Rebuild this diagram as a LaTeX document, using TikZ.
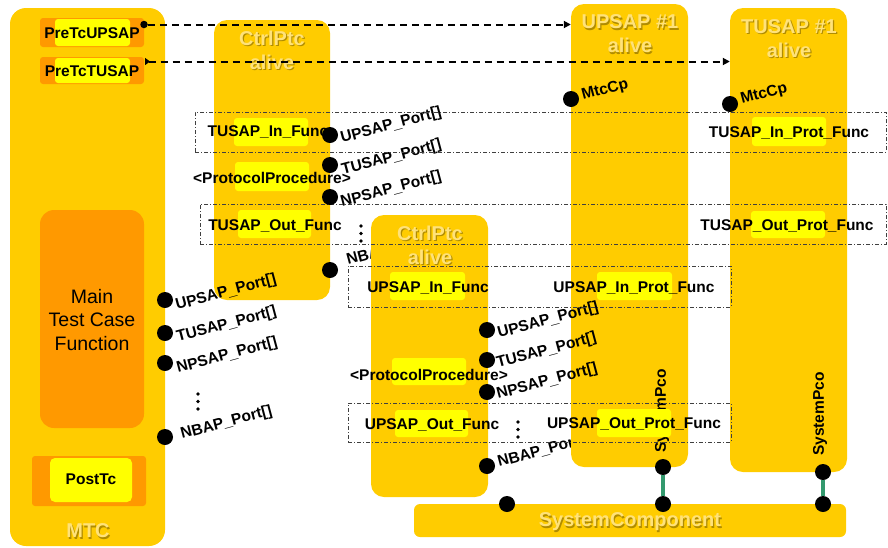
\documentclass[tikz,border=0pt]{standalone}
\usepackage{fontspec}
\setmainfont{Liberation Sans}
\usetikzlibrary{arrows.meta}
\definecolor{gold}{HTML}{FFCC00}
\definecolor{orng}{HTML}{FF9900}
\definecolor{yel}{HTML}{FFFF00}
\definecolor{embf}{HTML}{FFE27A}
\definecolor{embs}{HTML}{B08C00}
\definecolor{grn}{HTML}{33996E}
\newcommand\embtitle[4]{%
  \node[ttl,text=embs] at (#1+1.2,#2+1.2) {#4};
  \node[ttl,text=embf] (#3) at (#1,#2) {#4};}
\begin{document}
\begin{tikzpicture}[x=1pt,y=-1pt,
  goldbox/.style={fill=gold, inner sep=0pt, rounded corners=13pt},
  orbox/.style={fill=orng, inner sep=0pt, rounded corners=3pt},
  yelbox/.style={fill=yel, inner sep=0pt, rounded corners=3pt},
  lbl/.style={font=\fontsize{15.5}{18}\selectfont\bfseries, inner sep=0pt},
  plabel/.style={lbl, rotate=15, anchor=base west},
  ttl/.style={font=\fontsize{20}{24}\selectfont\bfseries, align=center, inner sep=0pt},
  bigdot/.style={circle, fill=black, inner sep=0pt, minimum size=16pt},
  smalldot/.style={circle, fill=black, inner sep=0pt, minimum size=3.6pt},
  ddrect/.style={draw=black!75, line width=0.7pt, dash pattern=on 4pt off 2pt on 1pt off 2pt, inner sep=0pt},
  dasharrow/.style={draw=black, line width=2pt, dash pattern=on 7pt off 5pt, -{Triangle[length=7pt,width=7pt]}},
  grnline/.style={draw=grn, line width=3.5pt}]
\useasboundingbox (0,0) rectangle (888,547);

% ---------------- MTC ----------------
\node[goldbox, rounded corners=16pt, minimum width=155pt, minimum height=538pt] (mtc) at (87.5,277) {};
\node[orbox, minimum width=104pt, minimum height=29pt] (pre1o) at (92,32.5) {};
\node[yelbox, minimum width=75pt, minimum height=27pt] (pre1y) at (92.5,32.5) {};
\node[lbl] (pre1t) at (92,33) {PreTcUPSAP};
\node[orbox, minimum width=104pt, minimum height=27pt] (pre2o) at (92,70.5) {};
\node[yelbox, minimum width=75pt, minimum height=25pt] (pre2y) at (92.5,70.5) {};
\node[lbl] (pre2t) at (92,71) {PreTcTUSAP};
\node[orbox, rounded corners=14pt, minimum width=104pt, minimum height=218pt] (mainf) at (92,319) {};
\node[font=\fontsize{19.5}{23.5}\selectfont, align=center, inner sep=0pt] (mainft) at (92,320) {Main\\Test Case\\Function};
\node[orbox, minimum width=114pt, minimum height=50pt] (posto) at (89,481) {};
\node[yelbox, rounded corners=5pt, minimum width=82pt, minimum height=44pt] (posty) at (91,480) {};
\node[lbl] (postt) at (91,479) {PostTc};
\embtitle{88}{531}{mtct}{MTC}

% ---------------- upper CtrlPtc ----------------
\node[goldbox, minimum width=116pt, minimum height=280pt] (cp1) at (272,160) {};
\embtitle{272}{50}{cp1t}{CtrlPtc\\alive}
\node[yelbox, minimum width=74pt, minimum height=28pt] (tinY) at (271,132) {};
\node[lbl] (tinT) at (268,132) {TUSAP\_In\_Func};
\node[yelbox, minimum width=74pt, minimum height=29pt] (pp1Y) at (272,176.5) {};
\node[lbl] (pp1T) at (272,178) {<ProtocolProcedure>};
\node[yelbox, minimum width=73pt, minimum height=28pt] (toutY) at (274.5,224) {};
\node[lbl] (toutT) at (275,226) {TUSAP\_Out\_Func};
\node[plabel] (c1l) at (342,143) {UPSAP\_Port[]};
\node[plabel] (c2l) at (343,175) {TUSAP\_Port[]};
\node[plabel] (c3l) at (342,207) {NPSAP\_Port[]};
\node[plabel] (c4l) at (348,265) {NBAP\_Port[]};

\node[plabel] (m1l) at (177,310) {UPSAP\_Port[]};
\node[plabel] (m2l) at (178,342) {TUSAP\_Port[]};
\node[plabel] (m3l) at (178,373) {NPSAP\_Port[]};
\node[plabel] (m4l) at (182,439) {NBAP\_Port[]};

% ---------------- lower CtrlPtc ----------------
\node[goldbox, minimum width=117pt, minimum height=282pt] (cp2) at (429.5,356) {};
\embtitle{430}{245}{cp2t}{CtrlPtc\\alive}
\node[yelbox, minimum width=75pt, minimum height=28pt] (uinY) at (427.5,286) {};
\node[lbl] (uinT) at (428,288) {UPSAP\_In\_Func};
\node[yelbox, minimum width=74pt, minimum height=27pt] (pp2Y) at (429,371.5) {};
\node[lbl] (pp2T) at (429,375) {<ProtocolProcedure>};
\node[yelbox, minimum width=73pt, minimum height=27pt] (uoutY) at (431.5,423.5) {};
\node[lbl] (uoutT) at (432,425) {UPSAP\_Out\_Func};
\node[plabel] (d4l) at (499,467) {NBAP\_Port[]};

% ---------------- UPSAP / TUSAP ----------------
\node[goldbox, minimum width=117pt, minimum height=463pt] (upsap) at (629.5,235.5) {};
\embtitle{630}{34}{upsapt}{UPSAP \#1\\alive}
\node[goldbox, minimum width=117pt, minimum height=464pt] (tusap) at (788.5,240) {};
\embtitle{789}{38.5}{tusapt}{TUSAP \#1\\alive}
\node[lbl, rotate=90] (spco1) at (662,411) {SystemPco};
\node[lbl, rotate=90] (spco2) at (820,414) {SystemPco};
\node[yelbox, minimum width=74pt, minimum height=29pt] (tipY) at (789,131.5) {};
\node[lbl] (tipT) at (789,133) {TUSAP\_In\_Prot\_Func};
\node[yelbox, minimum width=74pt, minimum height=27pt] (topY) at (788,224.5) {};
\node[lbl] (topT) at (787,226) {TUSAP\_Out\_Prot\_Func};
\node[yelbox, minimum width=75pt, minimum height=28pt] (uipY) at (634.5,286) {};
\node[lbl] (uipT) at (634,288) {UPSAP\_In\_Prot\_Func};
\node[yelbox, minimum width=74pt, minimum height=28pt] (uopY) at (634,423) {};
\node[lbl] (uopT) at (634,424) {UPSAP\_Out\_Prot\_Func};
\node[plabel] (d1l) at (499,338) {UPSAP\_Port[]};
\node[plabel] (d2l) at (498,368) {TUSAP\_Port[]};
\node[plabel] (d3l) at (498,399) {NPSAP\_Port[]};
\node[plabel] (mc1l) at (583,100) {MtcCp};
\node[plabel] (mc2l) at (742,104) {MtcCp};

% ---------------- dash-dot groups ----------------
\node[ddrect, minimum width=691pt, minimum height=40pt] (r1) at (540.5,132) {};
\node[ddrect, minimum width=686pt, minimum height=40pt] (r2) at (543,224) {};
\node[ddrect, minimum width=383pt, minimum height=41pt] (r3) at (539.5,286.5) {};
\node[ddrect, minimum width=383pt, minimum height=39pt] (r4) at (539.5,422.5) {};

% ---------------- ellipses ----------------
\node[smalldot] (e1a) at (198,394) {};
\node[smalldot] (e1b) at (198,401.5) {};
\node[smalldot] (e1c) at (198,409) {};
\node[smalldot] (e2a) at (361,226) {};
\node[smalldot] (e2b) at (361,233.5) {};
\node[smalldot] (e2c) at (361,241) {};
\node[smalldot] (e3a) at (518,422) {};
\node[smalldot] (e3b) at (518,429.5) {};
\node[smalldot] (e3c) at (518,437) {};

% ---------------- SystemComponent ----------------
\node[fill=gold, rounded corners=6pt, inner sep=0pt, minimum width=432pt, minimum height=33pt] (sc) at (630,520.5) {};
\embtitle{630}{522}{sct}{SystemComponent}

% ---------------- dots ----------------
\node[bigdot] (m1) at (165,300) {};
\node[bigdot] (m2) at (165,333) {};
\node[bigdot] (m3) at (165,363) {};
\node[bigdot] (m4) at (165,437) {};
\node[bigdot] (c1) at (330,135) {};
\node[bigdot] (c2) at (330,165) {};
\node[bigdot] (c3) at (330,197) {};
\node[bigdot] (c4) at (330,270) {};
\node[bigdot] (d1) at (487,330) {};
\node[bigdot] (d2) at (487,360) {};
\node[bigdot] (d3) at (487,392) {};
\node[bigdot] (d4) at (487,466) {};
\node[bigdot] (mc1) at (571,99) {};
\node[bigdot] (mc2) at (730,104) {};
\node[bigdot] (up1) at (663,467) {};
\node[bigdot] (tp1) at (823,472) {};
\node[bigdot] (sc0) at (507,504) {};
\node[bigdot] (sc1) at (663,504) {};
\node[bigdot] (sc2) at (823,504) {};
\node[circle, fill=black, inner sep=0pt, minimum size=7.5pt] (pd1) at (144,24.5) {};
\coordinate (pd2) at (145,61.5);

% ---------------- connectors ----------------
\draw[dasharrow] (pd1) -- (pd1 -| upsap.west);
\draw[dasharrow, {Triangle[reversed,length=5pt,width=7pt]}-{Triangle[length=7pt,width=7pt]}] (pd2) -- (pd2 -| tusap.west);
\draw[grnline] (up1) -- (sc1);
\draw[grnline] (tp1) -- (sc2);
\end{tikzpicture}
\end{document}
